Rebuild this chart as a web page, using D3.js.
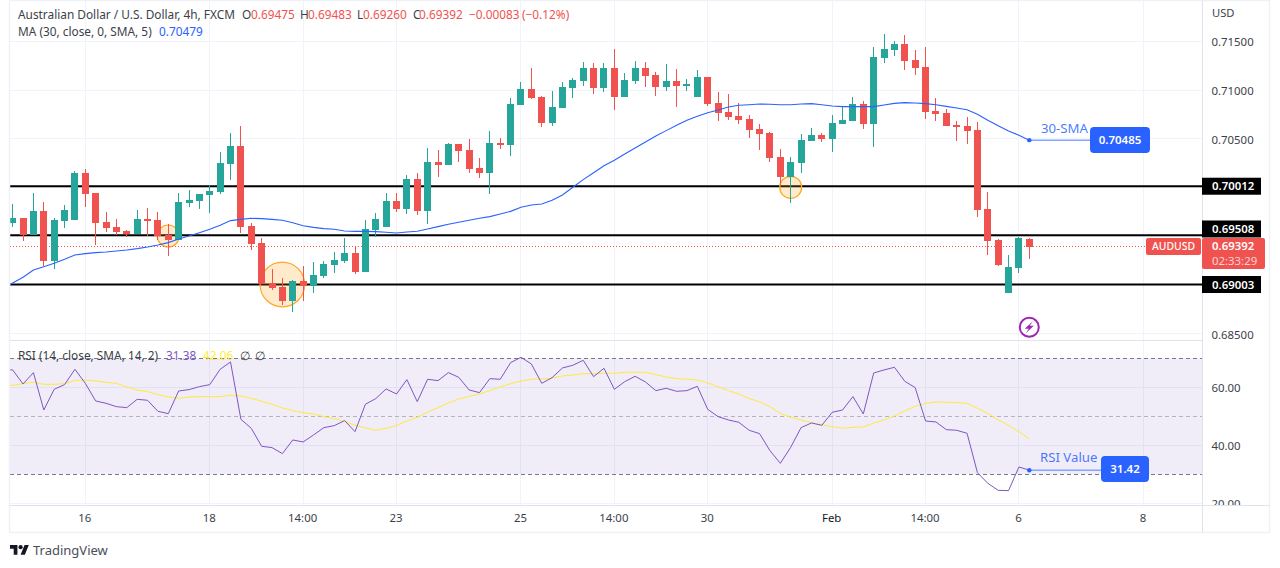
<!DOCTYPE html>
<html>
<head>
<meta charset="utf-8">
<script src="https://cdn.jsdelivr.net/npm/d3@7"></script>
<style>
  html, body { margin: 0; padding: 0; background: #fff; }
  svg { display: block; }
  text { font-family: "Noto Sans", sans-serif; }
</style>
</head>
<body>
<script>
/* Candles, one entry per 4h bar */
var opens = [.69638,.69686,.69511,.69758,.69244,.69655,.69665,.70148,.69942,.69645,.69593,.69552,.69522,.69676,.69665,.69511,.69460,.69840,.69860,.69922,.69953,.70240,.70425,.69604,.69429,.69018,.68977,.68834,.69039,.68988,.69090,.69203,.69244,.69326,.69131,.69563,.69593,.69860,.69778,.70086,.69758,.70261,.70230,.70446,.70384,.70199,.70148,.70456,.70435,.70846,.71010,.70928,.70661,.70815,.71021,.71092,.71226,.71021,.71226,.70928,.71092,.71226,.71154,.71031,.71092,.71041,.70928,.71133,.70866,.70774,.70733,.70702,.70600,.70558,.70312,.70107,.70250,.70476,.70538,.70497,.70651,.70682,.70856,.70651,.71329,.71411,.71472,.71308,.71236,.70784,.70764,.70641,.70630,.70589,.69778,.69460,.68916,.69172,.69475];
var highs = [.69830,.69686,.69942,.69850,.69686,.69819,.70168,.70189,.69942,.69747,.69676,.69563,.69768,.69788,.69747,.69624,.69942,.69973,.69932,.70025,.70363,.70558,.70630,.69634,.69480,.69162,.69070,.69049,.69193,.69234,.69244,.69337,.69480,.69388,.69665,.69737,.69942,.69942,.70127,.70148,.70404,.70384,.70456,.70446,.70497,.70302,.70579,.70507,.70918,.71082,.71226,.70938,.70990,.71082,.71123,.71287,.71277,.71277,.71421,.71175,.71298,.71287,.71185,.71267,.71216,.71113,.71205,.71133,.70979,.70959,.70866,.70743,.70651,.70569,.70394,.70312,.70548,.70610,.70558,.70743,.70836,.70928,.70887,.71441,.71575,.71503,.71565,.71411,.71441,.70918,.70805,.70682,.70723,.70671,.69953,.69470,.69306,.69491,.69483];
var lows = [.69593,.69453,.69511,.69196,.69162,.69583,.69665,.69799,.69409,.69542,.69511,.69491,.69522,.69501,.69460,.69296,.69460,.69799,.69778,.69737,.69932,.70076,.69532,.69357,.69008,.68947,.68793,.68721,.68834,.68916,.69070,.69121,.69224,.69111,.69131,.69491,.69593,.69747,.69727,.69717,.69624,.70107,.70230,.70261,.70148,.70096,.69932,.70394,.70322,.70846,.70908,.70620,.70630,.70815,.70918,.71041,.70959,.70979,.70795,.70928,.71062,.71031,.70938,.70990,.70825,.70990,.70928,.70836,.70682,.70692,.70651,.70507,.70384,.70261,.70025,.69840,.70148,.70476,.70466,.70363,.70651,.70682,.70600,.70415,.71277,.71349,.71205,.71154,.70702,.70682,.70630,.70476,.70446,.69696,.69306,.69193,.68916,.69121,.69260];
var closes = [.69686,.69511,.69758,.69244,.69665,.69768,.70148,.69932,.69634,.69583,.69542,.69522,.69676,.69655,.69501,.69460,.69850,.69871,.69932,.69963,.70250,.70425,.69593,.69419,.69008,.68967,.68834,.69039,.68988,.69101,.69214,.69255,.69326,.69131,.69573,.69676,.69860,.69778,.70086,.69758,.70261,.70230,.70446,.70374,.70189,.70148,.70456,.70435,.70856,.71010,.70918,.70661,.70825,.71031,.71103,.71226,.71021,.71226,.70928,.71103,.71226,.71144,.71031,.71092,.71041,.71062,.71133,.70856,.70764,.70723,.70692,.70589,.70548,.70302,.70107,.70261,.70487,.70538,.70497,.70661,.70692,.70856,.70651,.71339,.71421,.71472,.71298,.71226,.70774,.70754,.70630,.70620,.70579,.69768,.69450,.69203,.69183,.69480,.69392];

/* 30 SMA. Starts one bar before the first candle, off the left edge of the pane */
var smaValues = [.68964,.69019,.69077,.69152,.69186,.69221,.69262,.69306,.69320,.69330,.69337,.69347,.69357,.69371,.69388,.69409,.69433,.69470,.69501,.69535,.69570,.69611,.69659,.69672,.69683,.69679,.69672,.69662,.69638,.69607,.69590,.69577,.69570,.69553,.69549,.69549,.69546,.69539,.69532,.69542,.69549,.69573,.69597,.69621,.69642,.69662,.69683,.69700,.69727,.69754,.69796,.69819,.69830,.69867,.69922,.70001,.70080,.70151,.70223,.70278,.70343,.70405,.70466,.70528,.70583,.70637,.70689,.70730,.70767,.70795,.70826,.70843,.70849,.70856,.70853,.70849,.70849,.70856,.70860,.70849,.70836,.70829,.70829,.70829,.70829,.70846,.70863,.70870,.70867,.70860,.70849,.70832,.70815,.70798,.70750,.70689,.70634,.70579,.70535,.70485];

/* RSI and its signal line, same bars as the SMA */
var rsiValues = [66.2,65.98,61.15,65.06,52.18,59.31,60.92,66.21,61.38,55.29,54.48,53.33,52.99,55.86,55.52,51.72,50.92,58.74,59.20,60.23,60.92,66.21,68.74,48.97,45.86,39.66,39.20,37.13,41.84,41.15,43.56,46.09,46.78,48.51,44.71,54.14,56.09,59.43,57.70,62.64,55.06,62.76,62.30,65.06,63.45,59.08,58.16,62.99,62.76,68.51,70.34,68.05,61.38,63.33,66.67,67.59,69.31,63.68,66.55,59.31,61.95,63.79,61.84,58.85,59.66,58.62,58.85,60.34,52.41,49.89,48.74,47.93,45.17,44.02,38.16,33.79,39.31,46.09,47.70,46.90,51.38,52.18,56.78,50.80,64.94,65.98,66.90,62.07,59.89,48.39,48.05,45.40,45.17,44.14,30.57,26.90,24.48,24.37,32.53,31.42];
var rsiMaValues = [60.6,60.69,61.26,61.72,61.03,61.03,61.26,62.30,62.53,62.18,61.72,61.38,60.11,59.08,58.51,57.47,56.67,56.21,56.67,56.78,56.78,56.78,57.24,57.01,56.21,55.17,54.14,52.87,51.95,51.26,50.80,49.89,49.20,48.28,46.90,45.98,45.17,45.86,46.78,48.39,49.66,51.49,52.99,54.60,55.98,56.90,57.70,58.85,60.11,61.26,62.18,62.76,62.87,63.22,63.91,64.25,64.71,64.71,64.83,64.83,65.17,65.17,65.17,64.37,63.56,62.99,62.76,62.53,61.49,60.23,58.85,57.70,56.09,55.06,53.33,51.03,49.66,48.74,47.82,47.01,46.44,45.86,46.21,46.32,47.70,48.74,50.11,51.84,53.45,54.48,54.94,54.83,54.71,54.48,52.76,51.03,48.74,46.90,44.71,42.18];

/* Axis ticks */
var priceTicks = [0.715, 0.71, 0.705, 0.70, 0.695, 0.69, 0.685];
var priceTickLabels = [0.715, 0.71, 0.705, 0.685];
var rsiTicks = [60, 40, 20];
var rsiLevels = [70, 50, 30];
var timeTickBars = [7, 19, 28, 37, 49, 58, 67, 79, 88, 97, 109];
var timeTickLabels = ["16", "18", "14:00", "23", "25", "14:00", "30", "Feb", "14:00", "6", "8"];

/* Support and resistance levels, with the price the tag text is drawn against */
var levelPrices = [0.70012, 0.69508, 0.69003];
var levelTagPrices = [0.70012, 0.69573, 0.69003];

/* Highlight circles: bar, price, radius in bars */
var circleBars = [15, 26, 75];
var circlePrices = [0.69501, 0.69003, 0.70001];
var circleSizes = [1.06, 2.15, 1.06];

var lastPrice = 0.69392;
var width = 1280, height = 568;
var left = 10, right = 1202, priceBottom = 340, rsiTop = 341, rsiBottom = 505, frameBottom = 532, frameRight = 1270;

var green = "#26a69a", red = "#f0534f", blue = "#2962ff", purple = "#7e57c2", yellow = "#ffeb3b";
var gridColor = "#f0f3fa", lineColor = "#e0e3eb", textColor = "#3c3f4a";
var axisFontSize = 11.4;

var x = d3.scaleLinear().domain([7, 109]).range([85.3, 1143.4]);
var y = d3.scaleLinear().domain([0.715, 0.685]).range([41.3, 333.5]);
var yRsi = d3.scaleLinear().domain([60, 40]).range([387.3, 445.3]);

var svg = d3.select("body").append("svg")
    .attr("width", width)
    .attr("height", height);

var defs = svg.append("defs");
defs.append("clipPath").attr("id", "priceClip").append("rect")
    .attr("x", left).attr("y", 1).attr("width", right - left).attr("height", priceBottom - 1);
defs.append("clipPath").attr("id", "rsiClip").append("rect")
    .attr("x", left).attr("y", rsiTop).attr("width", right - left).attr("height", rsiBottom - rsiTop);
defs.append("clipPath").attr("id", "rsiAxisClip").append("rect")
    .attr("x", 0).attr("y", rsiTop).attr("width", 66).attr("height", rsiBottom - rsiTop);

// vertical grid, both panes
svg.append("g").selectAll("line")
    .data(timeTickBars)
    .enter().append("line")
    .attr("x1", function(d){ return Math.floor(x(d)) + 0.5; })
    .attr("x2", function(d){ return Math.floor(x(d)) + 0.5; })
    .attr("y1", 1)
    .attr("y2", rsiBottom)
    .attr("stroke", gridColor);

// horizontal grid, price pane
svg.append("g").selectAll("line")
    .data(priceTicks)
    .enter().append("line")
    .attr("x1", left)
    .attr("x2", right)
    .attr("y1", function(d){ return Math.floor(y(d)) + 0.5; })
    .attr("y2", function(d){ return Math.floor(y(d)) + 0.5; })
    .attr("stroke", gridColor);

// horizontal levels
svg.append("g").selectAll("line")
    .data(levelPrices)
    .enter().append("line")
    .attr("x1", left)
    .attr("x2", right)
    .attr("y1", function(d){ return y(d); })
    .attr("y2", function(d){ return y(d); })
    .attr("stroke", "#000")
    .attr("stroke-width", 2);

var pricePane = svg.append("g").attr("clip-path", "url(#priceClip)");

// orange highlight circles
pricePane.selectAll("circle")
    .data(circleBars)
    .enter().append("circle")
    .attr("cx", function(d){ return x(d); })
    .attr("cy", function(d, i){ return y(circlePrices[i]); })
    .attr("r", function(d, i){ return (x(circleSizes[i]) - x(0)); })
    .attr("fill", "rgba(255,152,0,0.2)")
    .attr("stroke", "#ffa726")
    .attr("stroke-width", 1.2);

// dotted last price line
pricePane.append("line")
    .attr("x1", left)
    .attr("x2", x(98) + 117)
    .attr("y1", Math.floor(y(lastPrice)) + 0.5)
    .attr("y2", Math.floor(y(lastPrice)) + 0.5)
    .attr("stroke", red)
    .attr("stroke-dasharray", "1,2");

// candles
var candle = pricePane.append("g").selectAll("g")
    .data(closes)
    .enter().append("g")
    .attr("shape-rendering", "crispEdges")
    .attr("fill", function(d, i){ return d >= opens[i] ? green : red; });

candle.append("rect")
    .attr("x", function(d, i){ return Math.floor(x(i)); })
    .attr("width", 1)
    .attr("y", function(d, i){ return y(highs[i]); })
    .attr("height", function(d, i){ return y(lows[i]) - y(highs[i]); });

candle.append("rect")
    .attr("x", function(d, i){ return Math.floor(x(i)) - 3; })
    .attr("width", 7)
    .attr("y", function(d, i){ return y(Math.max(opens[i], d)); })
    .attr("height", function(d, i){ return Math.max(1, Math.abs(y(opens[i]) - y(d))); });

// 30 SMA
var smaLine = d3.line()
    .x(function(d, i){ return x(i - 1); })
    .y(function(d){ return y(d); });

pricePane.append("path")
    .attr("d", smaLine(smaValues))
    .attr("fill", "none")
    .attr("stroke", blue)
    .attr("stroke-width", 1.1);

// 30-SMA callout
var lastBar = closes.length - 1;
svg.append("line")
    .attr("x1", x(lastBar))
    .attr("x2", 1092)
    .attr("y1", y(smaValues[smaValues.length - 1]))
    .attr("y2", y(smaValues[smaValues.length - 1]))
    .attr("stroke", "#82a5ff")
    .attr("stroke-width", 1.5);
svg.append("circle")
    .attr("cx", x(lastBar))
    .attr("cy", y(smaValues[smaValues.length - 1]))
    .attr("r", 2.2)
    .attr("fill", blue);
svg.append("rect")
    .attr("x", 1090).attr("y", 127).attr("width", 60).attr("height", 26).attr("rx", 4)
    .attr("fill", blue);
svg.append("text")
    .attr("x", 1120).attr("y", 140).attr("dy", "0.35em")
    .attr("text-anchor", "middle").attr("fill", "#fff").attr("font-size", 11.5).attr("font-weight", 600)
    .text("0.70485");
svg.append("text")
    .attr("x", 1041).attr("y", 128).attr("dy", "0.35em")
    .attr("fill", blue).attr("fill-opacity", 0.85).attr("font-size", 13.2)
    .text("30-SMA");

// news event marker
var eventMark = svg.append("g")
    .attr("transform", "translate(" + x(lastBar) + "," + y(0.68564) + ")");
eventMark.append("circle").attr("r", 9.5).attr("fill", "#fff").attr("stroke", "#9c27b0").attr("stroke-width", 2);
eventMark.append("path").attr("d", "M3.5,-6 L-4.5,1.5 H-0.5 L-3.5,6 L4.5,-1.5 H0.5 Z").attr("fill", "#9c27b0");

// RSI pane
var rsiPane = svg.append("g").attr("clip-path", "url(#rsiClip)");

rsiPane.append("g").selectAll("line")
    .data(rsiTicks)
    .enter().append("line")
    .attr("x1", left)
    .attr("x2", right)
    .attr("y1", function(d){ return Math.floor(yRsi(d)) + 0.5; })
    .attr("y2", function(d){ return Math.floor(yRsi(d)) + 0.5; })
    .attr("stroke", gridColor);

rsiPane.append("rect")
    .attr("x", left)
    .attr("width", right - left)
    .attr("y", yRsi(70))
    .attr("height", yRsi(30) - yRsi(70))
    .attr("fill", "rgba(126,87,194,0.115)");

rsiPane.append("g").selectAll("line")
    .data(rsiLevels)
    .enter().append("line")
    .attr("x1", left)
    .attr("x2", right)
    .attr("y1", function(d){ return Math.floor(yRsi(d)) + 0.5; })
    .attr("y2", function(d){ return Math.floor(yRsi(d)) + 0.5; })
    .attr("stroke", "#787b86")
    .attr("stroke-opacity", function(d){ return d === 50 ? 0.5 : 1; })
    .attr("stroke-dasharray", "4,3");

var rsiLine = d3.line()
    .x(function(d, i){ return x(i - 1); })
    .y(function(d){ return yRsi(d); });

rsiPane.append("path")
    .attr("d", rsiLine(rsiMaValues))
    .attr("fill", "none")
    .attr("stroke", yellow)
    .attr("stroke-width", 1);

rsiPane.append("path")
    .attr("d", rsiLine(rsiValues))
    .attr("fill", "none")
    .attr("stroke", purple)
    .attr("stroke-width", 1);

// RSI Value callout
var rsiLast = rsiValues[rsiValues.length - 1];
svg.append("line")
    .attr("x1", x(lastBar))
    .attr("x2", 1103)
    .attr("y1", yRsi(rsiLast))
    .attr("y2", yRsi(rsiLast))
    .attr("stroke", "#82a5ff")
    .attr("stroke-width", 1.5);
svg.append("circle")
    .attr("cx", x(lastBar))
    .attr("cy", yRsi(rsiLast))
    .attr("r", 2.2)
    .attr("fill", blue);
svg.append("rect")
    .attr("x", 1101).attr("y", 456).attr("width", 48).attr("height", 26).attr("rx", 4)
    .attr("fill", blue);
svg.append("text")
    .attr("x", 1125).attr("y", 469).attr("dy", "0.35em")
    .attr("text-anchor", "middle").attr("fill", "#fff").attr("font-size", 11.5).attr("font-weight", 600)
    .text("31.42");
svg.append("text")
    .attr("x", 1040).attr("y", 457.5).attr("dy", "0.35em")
    .attr("fill", blue).attr("fill-opacity", 0.85).attr("font-size", 13.2)
    .text("RSI Value");

// frame and pane separators
svg.append("rect")
    .attr("x", left - 0.5).attr("y", 0.5)
    .attr("width", frameRight - left).attr("height", frameBottom)
    .attr("fill", "none").attr("stroke", "#f0f1f7").attr("stroke-width", 1.5);
[[left, right, priceBottom + 0.5, priceBottom + 0.5], [left, frameRight, rsiBottom + 0.5, rsiBottom + 0.5], [right + 0.5, right + 0.5, 1, frameBottom]].forEach(function(l){
    svg.append("line")
        .attr("x1", l[0]).attr("x2", l[1]).attr("y1", l[2]).attr("y2", l[3])
        .attr("stroke", lineColor);
});

// price axis
var priceAxis = svg.append("g")
    .attr("transform", "translate(" + right + ",0)")
    .call(d3.axisRight(y).tickValues(priceTickLabels).tickSize(0).tickPadding(9.5).tickFormat(d3.format(".5f")));
var rsiAxis = svg.append("g")
    .attr("clip-path", "url(#rsiAxisClip)")
    .attr("transform", "translate(" + right + ",0)")
    .call(d3.axisRight(yRsi).tickValues(rsiTicks).tickSize(0).tickPadding(9.5).tickFormat(d3.format(".2f")));

// time axis
var timeAxis = svg.append("g")
    .attr("transform", "translate(-1," + rsiBottom + ")")
    .call(d3.axisBottom(x).tickValues(timeTickBars).tickSize(0).tickPadding(9)
        .tickFormat(function(d, i){ return timeTickLabels[i]; }));

[priceAxis, rsiAxis, timeAxis].forEach(function(axis){
    axis.select(".domain").remove();
    axis.selectAll("text")
        .attr("fill", textColor)
        .attr("font-size", axisFontSize)
        .attr("font-family", '"Noto Sans", sans-serif');
});
priceAxis.selectAll("text").attr("dy", "0.4em");
rsiAxis.selectAll("text").attr("dy", "0.4em");
timeAxis.selectAll("text")
    .attr("fill", function(d){ return d === 79 ? "#131722" : textColor; });

svg.append("text")
    .attr("x", 1212).attr("y", 13.5).attr("dy", "0.35em")
    .attr("fill", textColor).attr("font-size", 11.2)
    .text("USD");

// level tags on the price axis
var levelTag = svg.append("g").selectAll("g")
    .data(levelPrices)
    .enter().append("g");
levelTag.append("rect")
    .attr("x", right)
    .attr("width", 59)
    .attr("y", function(d, i){ return y(levelTagPrices[i]) - 8.5; })
    .attr("height", 17)
    .attr("fill", "#000");
levelTag.append("text")
    .attr("x", right + 10)
    .attr("y", function(d, i){ return y(levelTagPrices[i]); })
    .attr("dy", "0.37em")
    .attr("fill", "#fff")
    .attr("font-size", axisFontSize)
    .attr("font-weight", 600)
    .text(function(d){ return d3.format(".5f")(d); });

// last price tag
var lastY = y(lastPrice);
svg.append("rect")
    .attr("x", 1146).attr("y", lastY - 8.5).attr("width", 55).attr("height", 17).attr("rx", 2)
    .attr("fill", red);
svg.append("text")
    .attr("x", 1173.5).attr("y", lastY).attr("dy", "0.35em")
    .attr("text-anchor", "middle").attr("fill", "#fff").attr("font-size", 11).attr("font-weight", 500)
    .attr("textLength", 43).attr("lengthAdjust", "spacingAndGlyphs")
    .text("AUDUSD");
svg.append("rect")
    .attr("x", right).attr("y", lastY - 8.5).attr("width", 63).attr("height", 31).attr("rx", 2)
    .attr("fill", red);
svg.append("text")
    .attr("x", right + 10).attr("y", lastY - 0.5).attr("dy", "0.35em")
    .attr("fill", "#fff").attr("font-size", axisFontSize).attr("font-weight", 600)
    .text(d3.format(".5f")(lastPrice));
svg.append("text")
    .attr("x", right + 10).attr("y", lastY + 14.5).attr("dy", "0.35em")
    .attr("fill", "#fff").attr("fill-opacity", 0.75).attr("font-size", axisFontSize)
    .text("02:33:29");

// legend rows
function legend(px, py, label, color){
    svg.append("text")
        .attr("x", px).attr("y", py).attr("dy", "0.35em")
        .attr("fill", color).attr("font-size", 11.85)
        .text(label);
}
legend(18, 15, "Australian Dollar / U.S. Dollar, 4h, FXCM", textColor);
legend(242, 15, "O", textColor);
legend(251, 15, "0.69475", red);
legend(300, 15, "H", textColor);
legend(308, 15, "0.69483", red);
legend(357, 15, "L", textColor);
legend(363, 15, "0.69260", red);
legend(413, 15, "C", textColor);
legend(419, 15, "0.69392", red);
legend(469, 15, "\u22120.00083", red);
legend(522, 15, "(\u22120.12%)", red);
legend(18, 32, "MA (30, close, 0, SMA, 5)", textColor);
legend(159, 32, "0.70479", blue);
legend(18, 356, "RSI (14, close, SMA, 14, 2)", textColor);
legend(166, 356, "31.38", purple);
legend(203, 356, "42.06", yellow);
legend(240, 356, "\u2205", textColor);
legend(255, 356, "\u2205", textColor);

// TradingView mark
svg.append("path")
    .attr("transform", "translate(10,543) scale(0.53)")
    .attr("d", "M14 22H7V11H0V4h14v18zM28 22h-8l7.5-18h8L28 22z")
    .attr("fill", "#131722");
svg.append("circle")
    .attr("cx", 10 + 20 * 0.53).attr("cy", 543 + 8 * 0.53).attr("r", 4 * 0.53)
    .attr("fill", "#131722");
svg.append("text")
    .attr("x", 33).attr("y", 550).attr("dy", "0.35em")
    .attr("fill", "#4a4e59").attr("font-size", 13)
    .text("TradingView");
</script>
</body>
</html>
